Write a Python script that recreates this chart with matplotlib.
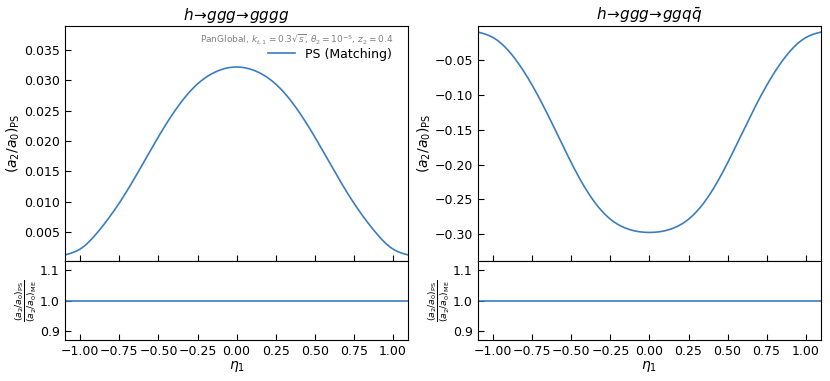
import numpy as np
import matplotlib
matplotlib.use("Agg")
from matplotlib import pyplot as plt

# eta_1 sample points, curves are symmetric
eta_half = [-1.1, -1.0, -0.875, -0.75, -0.625, -0.5, -0.375, -0.25, -0.125, 0.0]
gggg_half = [0.0012, 0.0022, 0.0054, 0.0098, 0.0151, 0.0207, 0.0257, 0.0294, 0.0315, 0.0322]
ggqq_half = [-0.0092, -0.0174, -0.0436, -0.0862, -0.1400, -0.1975, -0.2465, -0.2785, -0.2935, -0.2975]

eta = np.array(eta_half + [-e for e in eta_half[-2::-1]])
ps_gggg = np.array(gggg_half + gggg_half[-2::-1])
ps_ggqq = np.array(ggqq_half + ggqq_half[-2::-1])
ratio_gggg = np.ones_like(eta)
ratio_ggqq = np.ones_like(eta)

eta_f = np.linspace(-1.1, 1.1, 400)

# natural cubic spline through the read points
def spline(x, y, xf):
	n = len(x)
	h = np.diff(x)
	A = np.zeros((n, n))
	b = np.zeros(n)
	A[0, 0] = A[-1, -1] = 1
	for k in range(1, n - 1):
		A[k, k - 1] = h[k - 1]
		A[k, k] = 2 * (h[k - 1] + h[k])
		A[k, k + 1] = h[k]
		b[k] = 6 * ((y[k + 1] - y[k]) / h[k] - (y[k] - y[k - 1]) / h[k - 1])
	M = np.linalg.solve(A, b)
	idx = np.clip(np.searchsorted(x, xf) - 1, 0, n - 2)
	x0, x1 = x[idx], x[idx + 1]
	hh = x1 - x0
	t0, t1 = x1 - xf, xf - x0
	return (M[idx] * t0**3 + M[idx + 1] * t1**3) / (6 * hh) \
		+ (y[idx] / hh - M[idx] * hh / 6) * t0 + (y[idx + 1] / hh - M[idx + 1] * hh / 6) * t1

titles = [r"$h\!\to\! ggg\!\to\! gggg$", r"$h\!\to\! ggg\!\to\! gg q\bar{q}$"]
ylims = [(0.00016, 0.03896), (-0.339, -0.0006)]
lefts = [0.078, 0.5755]
width = 0.414
col = "#3a7ebf"

fig = plt.figure(figsize=(8.3, 3.81), dpi=100)
for i, (ps, ratio) in enumerate([(ps_gggg, ratio_gggg), (ps_ggqq, ratio_ggqq)]):
	ax = fig.add_axes([lefts[i], 0.3142, width, 0.6176])
	axr = fig.add_axes([lefts[i], 0.1076, width, 0.2066], sharex=ax)

	ax.plot(eta_f, spline(eta, ps, eta_f), color=col, lw=1.2, label="PS (Matching)")
	axr.plot(eta_f, np.interp(eta_f, eta, ratio), color=col, lw=1.2)

	ax.set_xlim(-1.1, 1.1)
	ax.set_ylim(*ylims[i])
	axr.set_ylim(0.87, 1.13)
	axr.set_yticks([0.9, 1.0, 1.1])
	axr.set_xticks(np.arange(-1.0, 1.01, 0.25))

	for a in (ax, axr):
		a.tick_params(direction="in", length=4, labelsize=9)
	ax.tick_params(labelbottom=False)

	ax.set_title(titles[i], fontsize=11, pad=4)
	ax.set_ylabel(r"$(a_2/a_0)_{\rm PS}$", fontsize=10, labelpad=1)
	axr.set_ylabel(r"$\frac{(a_2/a_0)_{\rm PS}}{(a_2/a_0)_{\rm ME}}$", fontsize=9.5, labelpad=1)
	axr.set_xlabel(r"$\eta_1$", fontsize=10, labelpad=1)

	if i == 0:
		ax.text(0.957, 0.975, r"PanGlobal, $k_{t,1}=0.3\sqrt{s}$, $\theta_2=10^{-5}$, $z_2=0.4$",
			transform=ax.transAxes, ha="right", va="top", fontsize=6.5, color="gray")
		ax.legend(loc="upper right", bbox_to_anchor=(0.975, 0.94), frameon=False, fontsize=9,
			handlelength=2.2, borderaxespad=0.2)

fig.savefig("out.png", dpi=100)
